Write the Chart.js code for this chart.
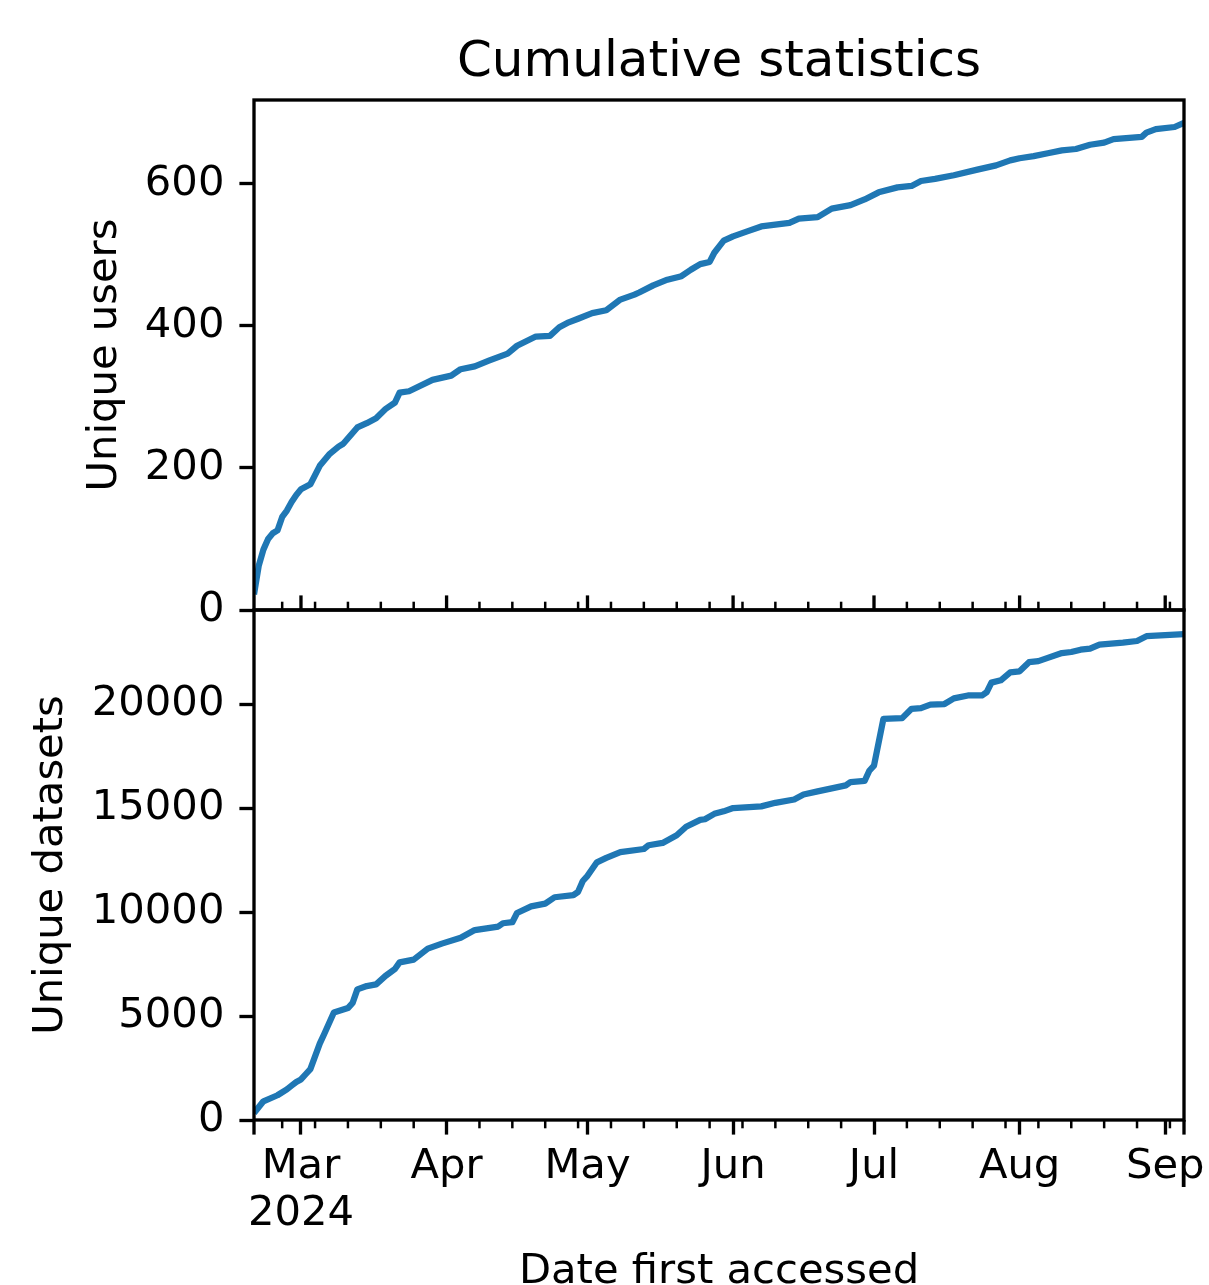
<!DOCTYPE html>
<html>
<head>
<meta charset="utf-8">
<title>Cumulative statistics</title>
<script src="https://cdn.jsdelivr.net/npm/chart.js@4.4.1/dist/chart.umd.min.js"></script>
<style>
  html, body { margin: 0; padding: 0; background: #fff; overflow: hidden; width: 1209px; height: 1285px; }
  canvas { position: absolute; left: 0; top: 0; }
</style>
</head>
<body>
<canvas id="usersChart" width="1209" height="1330"></canvas>
<canvas id="datasetsChart" width="1209" height="1330"></canvas>
<script>
// ---- data ---------------------------------------------------------------
const usersDates = [
  '2024-02-20','2024-02-21','2024-02-22','2024-02-23','2024-02-24','2024-02-25','2024-02-26',
  '2024-02-27','2024-02-28','2024-02-29','2024-03-01','2024-03-03','2024-03-05','2024-03-07',
  '2024-03-09','2024-03-10','2024-03-13','2024-03-15','2024-03-17','2024-03-19','2024-03-21',
  '2024-03-22','2024-03-24','2024-03-29','2024-04-02','2024-04-04','2024-04-07','2024-04-10',
  '2024-04-14','2024-04-16','2024-04-20','2024-04-23','2024-04-25','2024-04-27','2024-04-29',
  '2024-05-02','2024-05-05','2024-05-08','2024-05-11','2024-05-12','2024-05-15','2024-05-18',
  '2024-05-21','2024-05-23','2024-05-25','2024-05-27','2024-05-28','2024-05-30','2024-06-01',
  '2024-06-04','2024-06-07','2024-06-13','2024-06-15','2024-06-19','2024-06-22','2024-06-26',
  '2024-06-29','2024-07-02','2024-07-06','2024-07-09','2024-07-11','2024-07-14','2024-07-18',
  '2024-07-23','2024-07-27','2024-07-30','2024-08-01','2024-08-04','2024-08-07','2024-08-10',
  '2024-08-13','2024-08-16','2024-08-19','2024-08-21','2024-08-27','2024-08-28','2024-08-30',
  '2024-09-03','2024-09-05'
];
const usersValues = [
  22, 62, 85, 100, 108, 112, 131,
  140, 152, 162, 170, 177, 203, 219,
  230, 234, 257, 263, 270, 283, 292,
  306, 308, 324, 330, 339, 343, 351,
  361, 372, 385, 386, 398, 405, 410,
  418, 422, 437, 444, 447, 457, 465,
  470, 479, 487, 490, 503, 520, 526,
  533, 540, 545, 551, 553, 565, 570,
  578, 588, 595, 597, 604, 607, 612,
  620, 626, 633, 636, 639, 643, 647,
  649, 655, 658, 663, 666, 672, 677,
  680, 686
];

const datasetsDates = [
  '2024-02-20','2024-02-22','2024-02-25','2024-02-27','2024-02-28','2024-02-29','2024-03-01',
  '2024-03-02','2024-03-03','2024-03-05','2024-03-06','2024-03-08','2024-03-11','2024-03-12',
  '2024-03-13','2024-03-15','2024-03-17','2024-03-19','2024-03-21','2024-03-22','2024-03-25',
  '2024-03-28','2024-03-31','2024-04-04','2024-04-07','2024-04-12','2024-04-13','2024-04-15',
  '2024-04-16','2024-04-19','2024-04-22','2024-04-24','2024-04-28','2024-04-29','2024-04-30',
  '2024-05-01','2024-05-03','2024-05-05','2024-05-08','2024-05-13','2024-05-14','2024-05-17',
  '2024-05-20','2024-05-22','2024-05-25','2024-05-26','2024-05-28','2024-05-30','2024-06-01',
  '2024-06-07','2024-06-10','2024-06-14','2024-06-16','2024-06-19','2024-06-25','2024-06-26',
  '2024-06-29','2024-06-30','2024-07-01','2024-07-03','2024-07-07','2024-07-09','2024-07-11',
  '2024-07-13','2024-07-16','2024-07-18','2024-07-21','2024-07-24','2024-07-25','2024-07-26',
  '2024-07-28','2024-07-30','2024-08-01','2024-08-03','2024-08-05','2024-08-07','2024-08-10',
  '2024-08-12','2024-08-14','2024-08-16','2024-08-18','2024-08-23','2024-08-26','2024-08-28',
  '2024-09-05'
];
const datasetsValues = [
  330, 900, 1190, 1470, 1650, 1830, 1950,
  2200, 2450, 3670, 4160, 5170, 5380, 5630,
  6280, 6440, 6520, 6930, 7260, 7580, 7710,
  8240, 8480, 8760, 9130, 9300, 9460, 9510,
  9950, 10270, 10400, 10710, 10810, 10970, 11490,
  11740, 12390, 12600, 12880, 13030, 13210, 13320,
  13690, 14100, 14430, 14460, 14720, 14840, 15000,
  15080, 15250, 15410, 15650, 15800, 16090, 16250,
  16300, 16790, 17040, 19290, 19320, 19770, 19800,
  19970, 20000, 20270, 20410, 20410, 20570, 21030,
  21140, 21520, 21570, 22010, 22060, 22220, 22450,
  22500, 22610, 22660, 22860, 22950, 23030, 23260,
  23360
];

// axis ticks and labels
const monthTickDates = ['2024-03-01','2024-04-01','2024-05-01','2024-06-01','2024-07-01','2024-08-01','2024-09-01'];
const monthTickLabels = [['Mar', '2024'], 'Apr', 'May', 'Jun', 'Jul', 'Aug', 'Sep'];
const usersTicks = [0, 200, 400, 600];
const datasetsTicks = [0, 5000, 10000, 15000, 20000];
const xRange = ['2024-02-20', '2024-09-05'];
const usersRange = [0, 718];
const datasetsRange = [0, 24520];

// ---- helpers ------------------------------------------------------------
const toDay = s => Date.UTC(+s.slice(0, 4), +s.slice(5, 7) - 1, +s.slice(8, 10)) / 864e5;
const points = (dates, values) => dates.map((d, i) => ({ x: toDay(d), y: values[i] }));

const xMin = toDay(xRange[0]);
const xMax = toDay(xRange[1]);
const monthDays = monthTickDates.map(toDay);

// weekly minor ticks on Mondays, skipping those that sit on a month tick
const mondayDays = [];
for (let d = Math.ceil(xMin); d <= xMax; d++) {
  const wd = new Date(d * 864e5).getUTCDay();
  if (wd === 1 && !monthDays.includes(d)) mondayDays.push(d);
}

const FONT = 'DejaVu Sans';
const FS = 41.7;
const BLUE = '#1f77b4';
const SPINE_W = 3.33;
const MAJOR_LEN = 14.6;
const MINOR_LEN = 8.3;
const MINOR_W = 2.5;

Chart.defaults.color = '#000';
Chart.defaults.font.family = FONT;
Chart.defaults.font.size = FS;

const PLOT_LEFT = 254;
const PLOT_RIGHT_PAD = 25;

// spines, minor ticks and the panel title
function framePlugin(opts) {
  return {
    id: 'frame',
    afterDatasetsDraw(chart) {
      const { ctx, chartArea: a } = chart;
      const xs = chart.scales.x;
      ctx.save();
      ctx.strokeStyle = '#000';
      ctx.lineCap = 'butt';

      // x ticks drawn by hand
      const tick = (day, len, w, dir) => {
        const px = xs.getPixelForValue(day);
        ctx.lineWidth = w;
        ctx.beginPath();
        ctx.moveTo(px, a.bottom);
        ctx.lineTo(px, a.bottom + dir * len);
        ctx.stroke();
      };
      if (opts.inwardTicks) {
        monthDays.forEach(d => tick(d, MAJOR_LEN, SPINE_W, -1));
        mondayDays.forEach(d => tick(d, MINOR_LEN, MINOR_W, -1));
      } else {
        mondayDays.forEach(d => tick(d, MINOR_LEN, MINOR_W, 1));
        tick(xMin, MAJOR_LEN, SPINE_W, 1);
        tick(xMax, MAJOR_LEN, SPINE_W, 1);
      }

      // spines
      ctx.lineWidth = SPINE_W;
      ctx.lineJoin = 'miter';
      ctx.strokeRect(a.left, a.top, a.right - a.left, a.bottom - a.top);

      if (opts.title) {
        ctx.fillStyle = '#000';
        ctx.font = '50px "' + FONT + '"';
        ctx.textAlign = 'center';
        ctx.textBaseline = 'alphabetic';
        ctx.fillText(opts.title, (a.left + a.right) / 2, 76);
      }
      ctx.restore();
    }
  };
}

function yScale(range, ticks, title, titlePad) {
  return {
    type: 'linear',
    position: 'left',
    min: range[0],
    max: range[1],
    afterBuildTicks: s => { s.ticks = ticks.map(v => ({ value: v })); },
    afterFit: s => { s.width = PLOT_LEFT; s.paddingTop = 0; s.paddingBottom = 0; },
    ticks: {
      callback: v => String(v),
      padding: 15,
      font: { family: FONT, size: FS }
    },
    grid: {
      display: true,
      drawOnChartArea: false,
      drawTicks: true,
      tickLength: MAJOR_LEN,
      tickWidth: SPINE_W,
      tickColor: '#000'
    },
    border: { display: false },
    title: {
      display: true,
      text: title,
      color: '#000',
      font: { family: FONT, size: FS },
      padding: { top: titlePad, bottom: 0 }
    }
  };
}

function lineDataset(data) {
  return {
    data,
    borderColor: BLUE,
    backgroundColor: BLUE,
    borderWidth: 6.25,
    pointRadius: 0,
    tension: 0,
    fill: false,
    borderJoinStyle: 'round',
    borderCapStyle: 'butt'
  };
}

const common = {
  responsive: false,
  animation: false,
  devicePixelRatio: 1,
  plugins: { legend: { display: false }, tooltip: { enabled: false }, title: { display: false } },
  events: []
};

// ---- top panel: unique users ---------------------------------------------
new Chart(document.getElementById('usersChart'), {
  type: 'line',
  data: { datasets: [lineDataset(points(usersDates, usersValues))] },
  options: Object.assign({}, common, {
    layout: { padding: { left: 0, right: PLOT_RIGHT_PAD, top: 100, bottom: 1330 - 610 } },
    scales: {
      x: { type: 'linear', min: xMin, max: xMax, display: false },
      y: yScale(usersRange, usersTicks, 'Unique users', 80.6)
    }
  }),
  plugins: [framePlugin({ inwardTicks: true, title: 'Cumulative statistics' })]
});

// ---- bottom panel: unique datasets ---------------------------------------
new Chart(document.getElementById('datasetsChart'), {
  type: 'line',
  data: { datasets: [lineDataset(points(datasetsDates, datasetsValues))] },
  options: Object.assign({}, common, {
    layout: { padding: { left: 0, right: PLOT_RIGHT_PAD, top: 610, bottom: 0 } },
    scales: {
      x: {
        type: 'linear',
        position: 'bottom',
        min: xMin,
        max: xMax,
        afterBuildTicks: s => { s.ticks = monthDays.map(v => ({ value: v })); },
        afterFit: s => { s.height = 1330 - 1120; s.paddingLeft = 0; s.paddingRight = 0; },
        ticks: {
          autoSkip: false,
          maxRotation: 0,
          minRotation: 0,
          padding: 9.4,
          callback: (v, i) => monthTickLabels[i],
          font: { family: FONT, size: FS, lineHeight: 1.12 }
        },
        grid: {
          display: true,
          drawOnChartArea: false,
          drawTicks: true,
          tickLength: MAJOR_LEN,
          tickWidth: SPINE_W,
          tickColor: '#000'
        },
        border: { display: false },
        title: {
          display: true,
          text: 'Date first accessed',
          color: '#000',
          font: { family: FONT, size: FS },
          padding: { top: 0, bottom: 32.4 }
        }
      },
      y: yScale(datasetsRange, datasetsTicks, 'Unique datasets', 26.6)
    }
  }),
  plugins: [framePlugin({ inwardTicks: false })]
});
</script>
</body>
</html>
